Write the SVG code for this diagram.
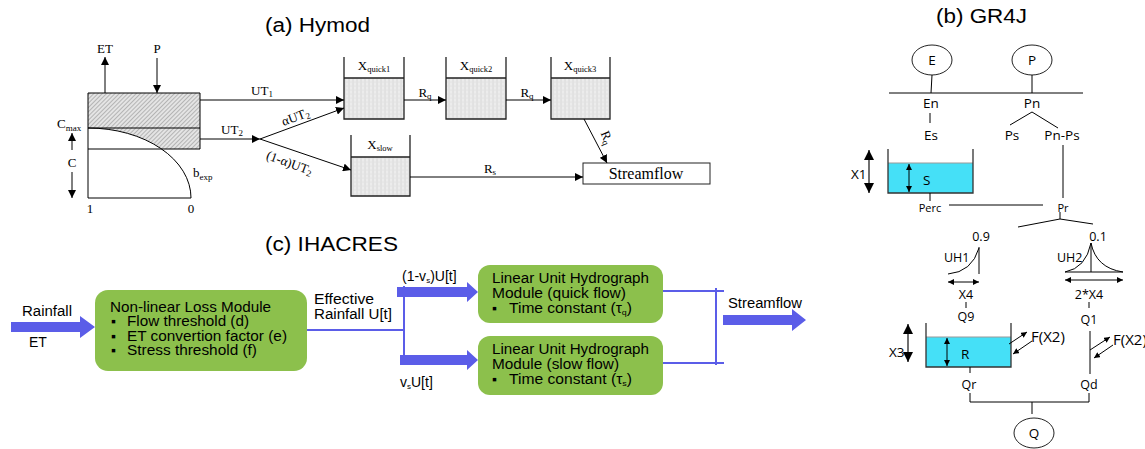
<svg xmlns="http://www.w3.org/2000/svg" width="1145" height="449" viewBox="0 0 1145 449">
<defs>
<pattern id="hatch" width="3" height="3" patternUnits="userSpaceOnUse" patternTransform="rotate(45)">
<rect width="3" height="3" fill="#e4e4e4"/>
<line x1="0" y1="0" x2="0" y2="3" stroke="#7a7a7a" stroke-width="0.9"/>
</pattern>
<pattern id="water" width="4" height="4" patternUnits="userSpaceOnUse">
<rect width="4" height="4" fill="#ececec"/>
<line x1="1" y1="0" x2="1" y2="4" stroke="#d0d0d0" stroke-width="0.8"/>
<circle cx="3" cy="2" r="0.4" fill="#c4c4c4"/>
</pattern>
<marker id="ah" viewBox="0 0 10 10" refX="10" refY="5" markerWidth="8" markerHeight="8" markerUnits="userSpaceOnUse" orient="auto-start-reverse">
<path d="M0,0 L10,5 L0,10 Z" fill="#000"/>
</marker>
<marker id="ah2" viewBox="0 0 10 10" refX="10" refY="5" markerWidth="10" markerHeight="10" markerUnits="userSpaceOnUse" orient="auto-start-reverse">
<path d="M0,0 L10,5 L0,10 Z" fill="#000"/>
</marker>
<marker id="ahs" viewBox="0 0 10 10" refX="10" refY="5" markerWidth="6" markerHeight="6" markerUnits="userSpaceOnUse" orient="auto-start-reverse">
<path d="M0,0 L10,5 L0,10 Z" fill="#000"/>
</marker>
<style>
.tm{font-family:"Liberation Serif",serif;font-size:13px;fill:#000}
.ar{font-family:"Liberation Sans",Arial,sans-serif;font-size:14px;fill:#000}
.ttl{font-family:"Liberation Sans",Arial,sans-serif;font-size:20px;fill:#000}
.g{font-family:"Open Sans","Liberation Sans",sans-serif;font-size:13.5px;fill:#000}
.gs{font-size:12.5px}
.gx{font-size:11px}
.gf{font-size:15px}
.ln{stroke:#000;stroke-width:1;fill:none}
.ln2{stroke:#222;stroke-width:1.3;fill:none}
.bl{stroke:#5b5de8;stroke-width:2;fill:none}
.blf{fill:#5b5de8}
.grn{fill:#8cc04c}
.tank{fill:none;stroke:#333;stroke-width:1.3}
.cyan{fill:#45e0f7}
</style>
</defs>

<!-- Titles -->
<text class="ttl" x="265" y="32" textLength="105" lengthAdjust="spacingAndGlyphs">(a) Hymod</text>
<text class="ttl" x="936" y="23" textLength="91" lengthAdjust="spacingAndGlyphs">(b) GR4J</text>
<text class="ttl" x="265" y="251" textLength="133" lengthAdjust="spacingAndGlyphs">(c) IHACRES</text>

<!-- Hymod soil store -->
<g id="soil">
<rect x="88" y="93" width="112" height="35" fill="url(#hatch)"/>
<path d="M88,128 A103,70 0 0 1 161.6,149 L200,149 L200,128 Z" fill="url(#hatch)"/>
<path class="ln" d="M88,93 H200 V149 M88,93 V198 H191 M88,128 H200 M88,149 H200"/>
<path class="ln" d="M88,128 A103,70 0 0 1 191,198"/>
<text class="tm" x="90" y="213" text-anchor="middle">1</text>
<text class="tm" x="191" y="213" text-anchor="middle">0</text>
<text class="tm" x="193" y="177">b<tspan font-size="9" dy="3">exp</tspan></text>
<text class="tm" x="57" y="128">C<tspan font-size="9" dy="3">max</tspan></text>
<text class="tm" x="72" y="167" text-anchor="middle">C</text>
<text class="tm" x="105" y="53" text-anchor="middle">ET</text>
<text class="tm" x="157" y="53" text-anchor="middle">P</text>
</g>

<g id="xquick1">
<rect x="344" y="78" width="60" height="41" fill="url(#water)"/>
<path class="ln2" d="M344,57 V119 H404 V57 M344,78 H404"/>
<text class="tm" x="374" y="70" text-anchor="middle">X<tspan font-size="8.5" dy="2">quick1</tspan></text>
</g>
<g id="xquick2">
<rect x="446" y="78" width="60" height="41" fill="url(#water)"/>
<path class="ln2" d="M446,57 V119 H506 V57 M446,78 H506"/>
<text class="tm" x="476" y="70" text-anchor="middle">X<tspan font-size="8.5" dy="2">quick2</tspan></text>
</g>
<g id="xquick3">
<rect x="551" y="78" width="59" height="41" fill="url(#water)"/>
<path class="ln2" d="M551,57 V119 H610 V57 M551,78 H610"/>
<text class="tm" x="580" y="70" text-anchor="middle">X<tspan font-size="8.5" dy="2">quick3</tspan></text>
</g>
<g id="xslow">
<rect x="351" y="157" width="59" height="39" fill="url(#water)"/>
<path class="ln2" d="M351,135 V196 H410 V135 M351,157 H410"/>
<text class="tm" x="380" y="149" text-anchor="middle">X<tspan font-size="8.5" dy="2">slow</tspan></text>
</g>
<g id="streamflow-a">
<rect x="583" y="163" width="127" height="21" fill="#fff" stroke="#222" stroke-width="1"/>
<text x="646" y="179" text-anchor="middle" style="font-family:'Liberation Serif',serif;font-size:16px">Streamflow</text>
</g>

<g id="hymod-connectors">
<line class="ln" x1="105" y1="93" x2="105" y2="57" marker-end="url(#ah)"/>
<line class="ln" x1="157" y1="58" x2="157" y2="93" marker-end="url(#ah)"/>
<line class="ln" x1="72" y1="150" x2="72" y2="133" marker-end="url(#ah)"/>
<line class="ln" x1="72" y1="172" x2="72" y2="198" marker-end="url(#ah)"/>
<line class="ln" x1="200" y1="100" x2="344" y2="100" marker-end="url(#ah)"/>
<line class="ln" x1="200" y1="139" x2="260" y2="139" marker-end="url(#ah)"/>
<line class="ln" x1="260" y1="139" x2="344" y2="108" marker-end="url(#ah)"/>
<line class="ln" x1="260" y1="139" x2="351" y2="170" marker-end="url(#ah)"/>
<line class="ln" x1="404" y1="100" x2="446" y2="100" marker-end="url(#ah)"/>
<line class="ln" x1="506" y1="100" x2="551" y2="100" marker-end="url(#ah)"/>
<line class="ln" x1="584" y1="119" x2="607" y2="163" marker-end="url(#ah)"/>
<line class="ln" x1="410" y1="177" x2="583" y2="177" marker-end="url(#ah)"/>
<text class="tm" x="262" y="95" text-anchor="middle">UT<tspan font-size="9" dy="2">1</tspan></text>
<text class="tm" x="232" y="134" text-anchor="middle">UT<tspan font-size="9" dy="2">2</tspan></text>
<text class="tm" x="0" y="0" text-anchor="middle" transform="translate(297,121) rotate(-20)">αUT<tspan font-size="9" dy="2">2</tspan></text>
<text class="tm" x="0" y="0" text-anchor="middle" transform="translate(288,167) rotate(20)">(1-α)UT<tspan font-size="9" dy="2">2</tspan></text>
<text class="tm" x="425" y="97" text-anchor="middle">R<tspan font-size="9" dy="2">q</tspan></text>
<text class="tm" x="527" y="97" text-anchor="middle">R<tspan font-size="9" dy="2">q</tspan></text>
<text class="tm" x="0" y="0" text-anchor="middle" transform="translate(603,139) rotate(68)">R<tspan font-size="9" dy="2">q</tspan></text>
<text class="tm" x="490" y="173" text-anchor="middle">R<tspan font-size="9" dy="2">s</tspan></text>
</g>

<!-- IHACRES -->
<g id="loss-module">
<rect class="grn" x="95" y="290" width="212" height="81" rx="13"/>
<text class="ar" x="110" y="312" textLength="161" lengthAdjust="spacingAndGlyphs">Non-linear Loss Module</text>
<text class="ar" x="111" y="326">▪</text>
<text class="ar" x="127" y="326" textLength="122" lengthAdjust="spacingAndGlyphs">Flow threshold (d)</text>
<text class="ar" x="111" y="341">▪</text>
<text class="ar" x="127" y="341" textLength="160" lengthAdjust="spacingAndGlyphs">ET convertion factor (e)</text>
<text class="ar" x="111" y="355">▪</text>
<text class="ar" x="127" y="355" textLength="130" lengthAdjust="spacingAndGlyphs">Stress threshold (f)</text>
</g>
<g id="quick-module">
<rect class="grn" x="478" y="265" width="185" height="58" rx="12"/>
<text class="ar" x="492" y="283" textLength="157" lengthAdjust="spacingAndGlyphs">Linear Unit Hydrograph</text>
<text class="ar" x="492" y="298" textLength="134" lengthAdjust="spacingAndGlyphs">Module (quick flow)</text>
<text class="ar" x="492" y="313">▪</text>
<text class="ar" x="509" y="313" textLength="123" lengthAdjust="spacingAndGlyphs">Time constant (τ<tspan font-size="8" dy="2">q</tspan><tspan dy="-2">)</tspan></text>
</g>
<g id="slow-module">
<rect class="grn" x="478" y="336" width="185" height="59" rx="12"/>
<text class="ar" x="492" y="354" textLength="157" lengthAdjust="spacingAndGlyphs">Linear Unit Hydrograph</text>
<text class="ar" x="492" y="369" textLength="127" lengthAdjust="spacingAndGlyphs">Module (slow flow)</text>
<text class="ar" x="492" y="384">▪</text>
<text class="ar" x="509" y="384" textLength="123" lengthAdjust="spacingAndGlyphs">Time constant (τ<tspan font-size="8" dy="2">s</tspan><tspan dy="-2">)</tspan></text>
</g>
<g id="ihacres-connectors">
<path class="blf" d="M11,322 H80 V316 L95,327 L80,338 V332 H11 Z"/>
<text class="ar" x="22" y="316" textLength="50" lengthAdjust="spacingAndGlyphs">Rainfall</text>
<text class="ar" x="29" y="347">ET</text>
<line class="bl" x1="307" y1="330" x2="405" y2="330"/>
<line class="bl" x1="404" y1="286" x2="404" y2="362"/>
<path class="blf" d="M397,287 H467 V282 L478,292 L467,302 V297 H397 Z"/>
<path class="blf" d="M400,355 H467 V350 L478,360 L467,370 V365 H400 Z"/>
<text class="ar" x="314" y="304" textLength="60" lengthAdjust="spacingAndGlyphs">Effective</text>
<text class="ar" x="314" y="319" textLength="78" lengthAdjust="spacingAndGlyphs">Rainfall U[t]</text>
<text class="ar" x="402" y="281">(1-v<tspan font-size="8" dy="2">s</tspan><tspan dy="-2">)U[t]</tspan></text>
<text class="ar" x="400" y="387">v<tspan font-size="8" dy="2">s</tspan><tspan dy="-2">U[t]</tspan></text>
<path class="bl" d="M663,291 H724 M663,363 H724 M716,288 V365"/>
<path class="blf" d="M723,315 H792 V309 L806,320 L792,331 V325 H723 Z"/>
<text class="ar" x="728" y="308" textLength="74" lengthAdjust="spacingAndGlyphs">Streamflow</text>
</g>

<!-- GR4J -->
<g id="node-E">
<ellipse cx="932" cy="60" rx="20" ry="15" fill="#fff" stroke="#222" stroke-width="1"/>
<text class="g" x="932" y="65" text-anchor="middle">E</text>
</g>
<g id="node-P">
<ellipse cx="1032" cy="60" rx="20" ry="15" fill="#fff" stroke="#222" stroke-width="1"/>
<text class="g" x="1032" y="65" text-anchor="middle">P</text>
</g>
<g id="store-S">
<rect class="cyan" x="888" y="163" width="85" height="30"/>
<line x1="888" y1="163" x2="973" y2="163" stroke="#999" stroke-width="1"/>
<path class="tank" d="M888,149 V193 H973 V149"/>
<line class="ln" x1="909" y1="164" x2="909" y2="192" marker-start="url(#ahs)" marker-end="url(#ahs)"/>
<text class="g" x="923" y="185">S</text>
</g>
<g id="store-R">
<rect class="cyan" x="926" y="337" width="85" height="30"/>
<line x1="926" y1="337" x2="1011" y2="337" stroke="#999" stroke-width="1"/>
<path class="tank" d="M926,323 V367 H1011 V323"/>
<line class="ln" x1="947" y1="338" x2="947" y2="366" marker-start="url(#ahs)" marker-end="url(#ahs)"/>
<text class="g" x="961" y="359">R</text>
</g>
<g id="uh1">
<path class="ln" d="M948,274 Q972,272 979,248 M979,247 V274"/>
<text class="g gs" x="944" y="262">UH1</text>
<text class="g gs" x="981" y="241" text-anchor="middle">0.9</text>
</g>
<g id="uh2">
<path class="ln" d="M1065,272 Q1086,268 1091,243 Q1096,268 1123,272 Z M1091,243 V272"/>
<text class="g gs" x="1057" y="262">UH2</text>
<text class="g gs" x="1098" y="241" text-anchor="middle">0.1</text>
</g>
<g id="node-Q">
<ellipse cx="1034" cy="433" rx="20" ry="15" fill="#fff" stroke="#222" stroke-width="1"/>
<text class="g" x="1034" y="438" text-anchor="middle">Q</text>
</g>
<g id="gr4j-connectors">
<path class="ln" d="M932,75 L931,93 M1032,75 V93 M889,93 H1083"/>
<text class="g" x="931" y="108" text-anchor="middle">En</text>
<text class="g" x="1032" y="108" text-anchor="middle">Pn</text>
<path class="ln" d="M930,113 V123 M1032,112 L1010,125 M1032,112 L1058,128"/>
<text class="g" x="931" y="140" text-anchor="middle">Es</text>
<text class="g" x="1012" y="140" text-anchor="middle">Ps</text>
<text class="g" x="1062" y="140" text-anchor="middle">Pn-Ps</text>
<path class="ln" d="M1063,145 V198"/>
<line class="ln2" x1="869" y1="150" x2="869" y2="193" marker-start="url(#ah2)" marker-end="url(#ah2)"/>
<text class="g" x="851" y="179">X1</text>
<path class="ln" d="M930,193 V201 M949,205 H1043"/>
<text class="g gx" x="930" y="212" text-anchor="middle">Perc</text>
<text class="g gx" x="1063" y="212" text-anchor="middle">Pr</text>
<path class="ln" d="M1060,212 V219 L1018,227 M1060,219 L1093,224"/>
<line class="ln" x1="948" y1="282" x2="979" y2="282" marker-start="url(#ahs)" marker-end="url(#ahs)"/>
<line class="ln" x1="1065" y1="280" x2="1123" y2="280" marker-start="url(#ahs)" marker-end="url(#ahs)"/>
<text class="g gs" x="966" y="299" text-anchor="middle">X4</text>
<text class="g gs" x="1089" y="299" text-anchor="middle">2*X4</text>
<path class="ln" d="M966,302 V308 M1089,302 V308"/>
<text class="g gs" x="966" y="321" text-anchor="middle">Q9</text>
<text class="g gs" x="1089" y="324" text-anchor="middle">Q1</text>
<line class="ln2" x1="908" y1="324" x2="908" y2="362" marker-start="url(#ah2)" marker-end="url(#ah2)"/>
<text class="g" x="889" y="357">X3</text>
<line class="ln" x1="1009" y1="344" x2="1027" y2="332" marker-end="url(#ahs)"/>
<line class="ln" x1="1032" y1="341" x2="1013" y2="354" marker-end="url(#ahs)"/>
<text class="g gf" x="1031" y="342">F(X2)</text>
<path class="ln" d="M1090,331 V374"/>
<line class="ln" x1="1090" y1="350" x2="1110" y2="337" marker-end="url(#ahs)"/>
<line class="ln" x1="1113" y1="345" x2="1094" y2="358" marker-end="url(#ahs)"/>
<text class="g gf" x="1113" y="345">F(X2)</text>
<path class="ln" d="M970,367 V373"/>
<text class="g gs" x="969" y="389" text-anchor="middle">Qr</text>
<text class="g gs" x="1089" y="389" text-anchor="middle">Qd</text>
<path class="ln" d="M970,393 V402 H1089 V393 M1032,402 V414"/>
</g>
</svg>
